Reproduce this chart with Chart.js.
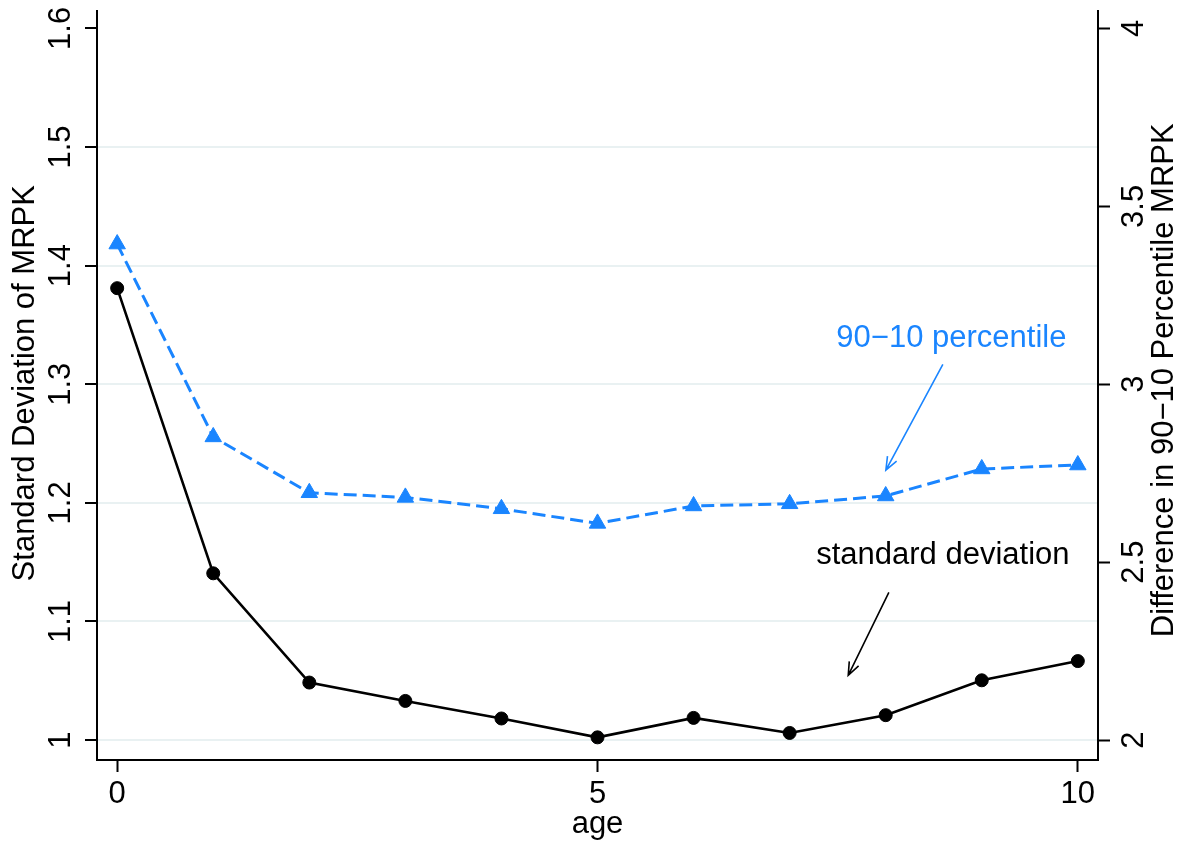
<!DOCTYPE html>
<html>
<head>
<meta charset="utf-8">
<script src="https://cdn.jsdelivr.net/npm/chart.js@4/dist/chart.umd.min.js"></script>
<style>
  html, body { margin: 0; padding: 0; background: #fff; }
  #wrap { width: 1184px; height: 846px; }
</style>
</head>
<body>
<div id="wrap"><canvas id="mrpkChart"></canvas></div>
<script>
// firm age
var ages = [0, 1, 2, 3, 4, 5, 6, 7, 8, 9, 10];
// standard deviation of MRPK (left axis)
var sdMRPK = [1.381, 1.1406, 1.0485, 1.033, 1.0182, 1.0023, 1.0187, 1.006, 1.021, 1.0504, 1.0666];
// 90-10 percentile difference of MRPK (right axis)
var p9010MRPK = [3.394, 2.852, 2.695, 2.682, 2.650, 2.609, 2.658, 2.664, 2.686, 2.762, 2.773];

var xTicks = [0, 5, 10];
var leftTicks = [1, 1.1, 1.2, 1.3, 1.4, 1.5, 1.6];
var leftTickLabels = ['1', '1.1', '1.2', '1.3', '1.4', '1.5', '1.6'];
var rightTicks = [2, 2.5, 3, 3.5, 4];
var rightTickLabels = ['2', '2.5', '3', '3.5', '4'];

var BLUE = '#1A85FF';
var GRID = '#E9F1F2';
var FONT = '"Liberation Sans", Arial, Helvetica, sans-serif';

function setTicks(values) {
  return function (scale) {
    scale.ticks = values.map(function (v) { return { value: v }; });
  };
}

function drawArrow(ctx, x0, y0, x1, y1, color) {
  var ang = Math.atan2(y1 - y0, x1 - x0);
  var head = 14, spread = 0.38;
  ctx.save();
  ctx.strokeStyle = color;
  ctx.lineWidth = 1.6;
  ctx.beginPath();
  ctx.moveTo(x0, y0);
  ctx.lineTo(x1, y1);
  ctx.moveTo(x1 - head * Math.cos(ang - spread), y1 - head * Math.sin(ang - spread));
  ctx.lineTo(x1, y1);
  ctx.lineTo(x1 - head * Math.cos(ang + spread), y1 - head * Math.sin(ang + spread));
  ctx.stroke();
  ctx.restore();
}

// rotated y tick labels, axis titles and the two callouts
var axisText = {
  id: 'axisText',
  afterDraw: function (chart) {
    var ctx = chart.ctx;
    var x = chart.scales.x, yL = chart.scales.y, yR = chart.scales.y2;
    var area = chart.chartArea;
    var midY = (area.top + area.bottom) / 2;
    ctx.save();
    ctx.fillStyle = '#000';
    ctx.font = '31px ' + FONT;
    ctx.textBaseline = 'alphabetic';
    ctx.textAlign = 'center';

    leftTicks.forEach(function (v, i) {
      ctx.save();
      ctx.translate(area.left - 27, yL.getPixelForValue(v));
      ctx.rotate(-Math.PI / 2);
      ctx.fillText(leftTickLabels[i], 0, 0);
      ctx.restore();
    });
    rightTicks.forEach(function (v, i) {
      ctx.save();
      ctx.translate(area.right + 45, yR.getPixelForValue(v));
      ctx.rotate(-Math.PI / 2);
      ctx.fillText(rightTickLabels[i], 0, 0);
      ctx.restore();
    });

    ctx.save();
    ctx.translate(34, midY - 2);
    ctx.rotate(-Math.PI / 2);
    ctx.fillText('Standard Deviation of MRPK', 0, 0);
    ctx.restore();

    ctx.save();
    ctx.translate(area.right + 75, midY - 5);
    ctx.rotate(-Math.PI / 2);
    ctx.fillText('Difference in 90\u221210 Percentile MRPK', 0, 0);
    ctx.restore();

    ctx.fillText('age', (area.left + area.right) / 2, 833);

    // callouts
    ctx.fillStyle = BLUE;
    ctx.fillText('90\u221210 percentile', x.getPixelForValue(8.684), yR.getPixelForValue(3.104));
    drawArrow(ctx, x.getPixelForValue(8.595), yR.getPixelForValue(3.056),
              x.getPixelForValue(8.002), yR.getPixelForValue(2.759), BLUE);

    ctx.fillStyle = '#000';
    ctx.fillText('standard deviation', x.getPixelForValue(8.595), yL.getPixelForValue(1.1487));
    drawArrow(ctx, x.getPixelForValue(8.033), yL.getPixelForValue(1.1246),
              x.getPixelForValue(7.610), yL.getPixelForValue(1.0546), '#000');
    ctx.restore();
  }
};

var ctx = document.getElementById('mrpkChart');
var chart = new Chart(ctx, {
  type: 'line',
  data: {
    datasets: [
      {
        label: 'standard deviation',
        data: ages.map(function (a, i) { return { x: a, y: sdMRPK[i] }; }),
        yAxisID: 'y',
        borderColor: '#000',
        backgroundColor: '#000',
        borderWidth: 2.6,
        pointStyle: 'circle',
        pointRadius: 6.5,
        pointBorderWidth: 1,
        tension: 0
      },
      {
        label: '90-10 percentile',
        data: ages.map(function (a, i) { return { x: a, y: p9010MRPK[i] }; }),
        yAxisID: 'y2',
        borderColor: BLUE,
        backgroundColor: BLUE,
        borderWidth: 3,
        borderDash: [13, 6],
        pointStyle: 'triangle',
        pointRadius: 9.5,
        pointBorderWidth: 1,
        tension: 0
      }
    ]
  },
  options: {
    responsive: true,
    maintainAspectRatio: false,
    animation: false,
    layout: { padding: { top: 8, left: 0, right: 0, bottom: 0 } },
    plugins: {
      legend: { display: false },
      tooltip: { enabled: false }
    },
    scales: {
      x: {
        type: 'linear',
        min: -0.21,
        max: 10.21,
        afterBuildTicks: setTicks(xTicks),
        afterFit: function (s) { s.height = 86; },
        border: { color: '#000', width: 2 },
        grid: { drawOnChartArea: false, tickColor: '#000', tickWidth: 2, tickLength: 12 },
        ticks: {
          color: '#000',
          font: { size: 31, family: FONT },
          padding: 4,
          maxRotation: 0,
          callback: function (v) { return String(v); }
        }
      },
      y: {
        position: 'left',
        min: 0.9832,
        max: 1.6151,
        afterBuildTicks: setTicks(leftTicks),
        afterFit: function (s) { s.width = 97; },
        border: { color: '#000', width: 2 },
        grid: {
          color: function (c) { return c.tick && c.tick.value > 1.55 ? 'rgba(0,0,0,0)' : GRID; },
          lineWidth: 2,
          tickColor: '#000',
          tickWidth: 2,
          tickLength: 12
        },
        ticks: { display: false }
      },
      y2: {
        position: 'right',
        min: 1.944,
        max: 4.0504,
        afterBuildTicks: setTicks(rightTicks),
        afterFit: function (s) { s.width = 86; },
        border: { color: '#000', width: 2 },
        grid: { drawOnChartArea: false, tickColor: '#000', tickWidth: 2, tickLength: 12 },
        ticks: { display: false }
      }
    }
  },
  plugins: [axisText]
});
</script>
</body>
</html>
